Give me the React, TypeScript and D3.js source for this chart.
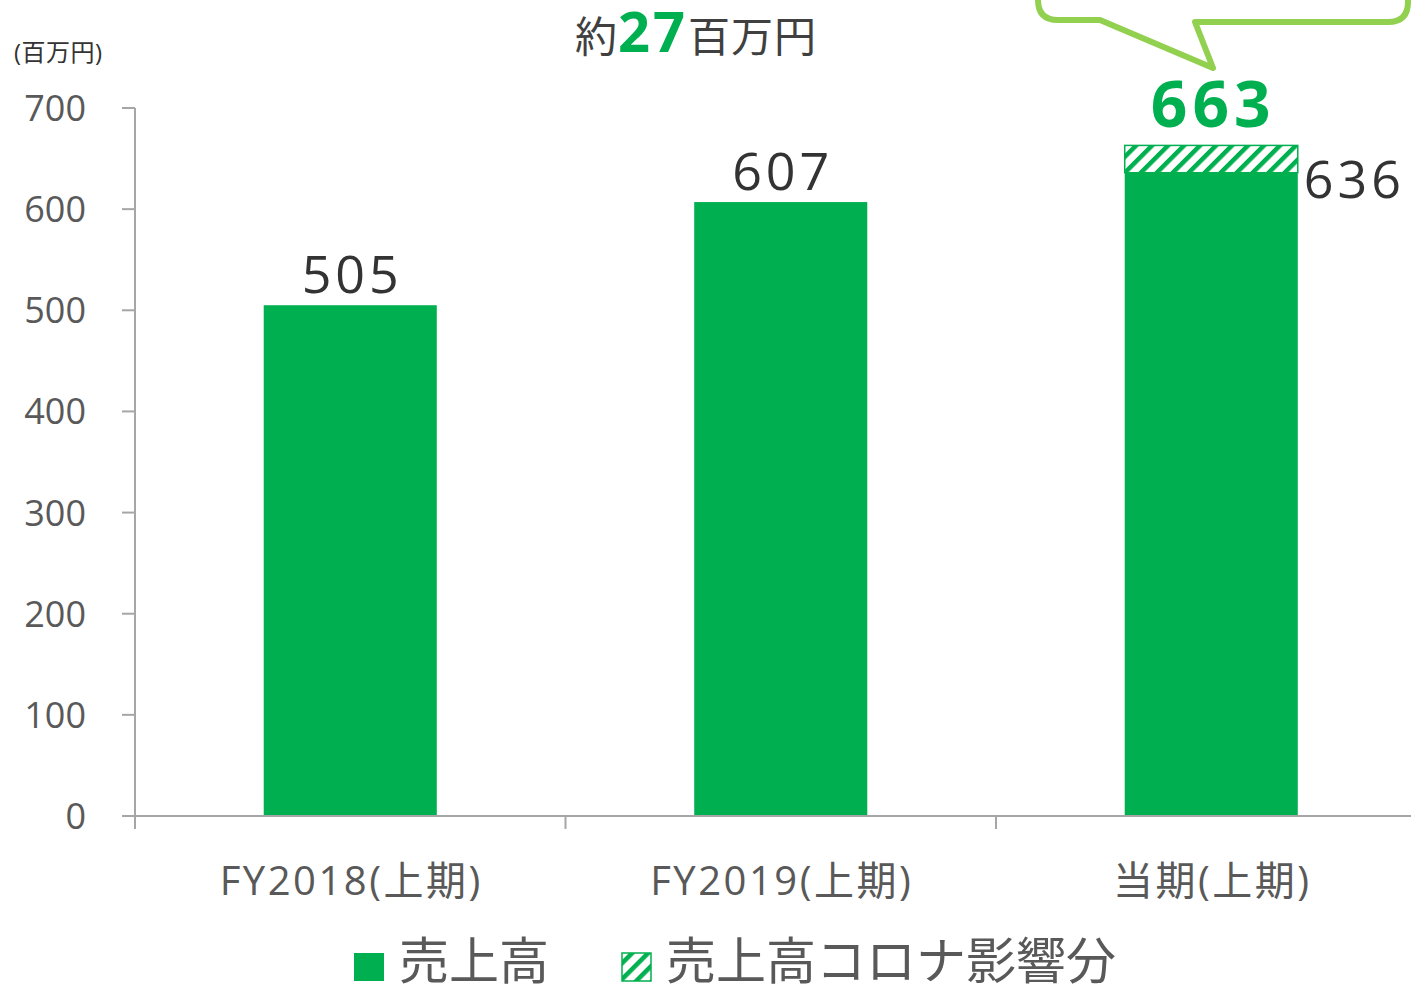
import React from "react";
import * as d3 from "d3";

const categories = ["FY2018(上期)", "FY2019(上期)", "当期(上期)"];
const sales = [505, 607, 636];
const coronaImpact = [0, 0, 27];
const totals = [505, 607, 663];
const yTicks = [0, 100, 200, 300, 400, 500, 600, 700];
const legendLabels = ["売上高", "売上高コロナ影響分"];

const W = 1411;
const H = 987;
const FONT = "'Open Sans', 'Noto Sans CJK JP', sans-serif";
const GREEN = "#00B050";
const LIGHT = "#92D050";
const AXIS = "#A6A6A6";
const TEXT = "#595959";
const DARK = "#333333";

export default function App() {
  const x = d3.scaleBand<string>().domain(categories).range([135, 1426.5]).padding(0);
  const y = d3.scaleLinear().domain([0, 700]).range([816, 108]);
  const bw = x.bandwidth() * 0.402;

  return (
    <svg width={W} height={H} style={{ position: "absolute", left: 0, top: 0, fontFamily: FONT }}>
      <defs>
        <pattern id="hatch" patternUnits="userSpaceOnUse" width={11.3} height={11.3} patternTransform="rotate(45)">
          <rect width={11.3} height={11.3} fill="#fff" />
          <rect x={0} y={0} width={4.5} height={11.3} fill={GREEN} />
        </pattern>
      </defs>
      <rect width={W} height={H} fill="#fff" />

      {/* unit label */}
      <text x={14} y={61} fontSize={24} fill={DARK} letterSpacing={0.5}>(百万円)</text>

      {/* y axis */}
      <line x1={135} x2={135} y1={y(700)} y2={y(0)} stroke={AXIS} strokeWidth={2} />
      {yTicks.map((t) => (
        <g key={t}>
          <line x1={122} x2={135} y1={y(t)} y2={y(t)} stroke={AXIS} strokeWidth={2} />
          <text x={86} y={y(t)} dy="0.36em" textAnchor="end" fontSize={36} fill={TEXT}>{t}</text>
        </g>
      ))}

      {/* bars */}
      {categories.map((c, i) => {
        const cx = (x(c) as number) + x.bandwidth() / 2;
        return (
          <g key={c}>
            <rect x={cx - bw / 2} y={y(sales[i])} width={bw} height={y(0) - y(sales[i])} fill={GREEN} />
            {coronaImpact[i] > 0 && (
              <rect
                x={cx - bw / 2}
                y={y(sales[i] + coronaImpact[i])}
                width={bw}
                height={y(sales[i]) - y(sales[i] + coronaImpact[i])}
                fill="url(#hatch)"
                stroke={GREEN}
                strokeWidth={1.5}
              />
            )}
          </g>
        );
      })}

      {/* x axis */}
      <line x1={122} x2={W} y1={y(0)} y2={y(0)} stroke={AXIS} strokeWidth={2} />
      {categories.map((c) => (
        <line key={c} x1={x(c) as number} x2={x(c) as number} y1={y(0)} y2={y(0) + 13} stroke={AXIS} strokeWidth={2} />
      ))}
      {categories.map((c) => (
        <text key={c} x={(x(c) as number) + x.bandwidth() / 2 + 1} y={895} textAnchor="middle" fontSize={40} letterSpacing={2.5} fill={TEXT}>{c}</text>
      ))}

      {/* value labels */}
      {categories.map((c, i) => {
        const cx = (x(c) as number) + x.bandwidth() / 2;
        if (coronaImpact[i] > 0) {
          return (
            <g key={c}>
              <text x={cx + 2} y={y(totals[i]) - 18} textAnchor="middle" fontSize={64} fontWeight="bold" letterSpacing={5} fill={GREEN}>{totals[i]}</text>
              <text x={cx + bw / 2 + 6} y={198} fontSize={52} letterSpacing={4} fill={DARK}>{sales[i]}</text>
            </g>
          );
        }
        return (
          <text key={c} x={cx + 2} y={y(sales[i]) - 12} textAnchor="middle" fontSize={52} letterSpacing={4} fill={DARK}>{sales[i]}</text>
        );
      })}

      {/* callout */}
      <path
        d="M 1058 -60 L 1388 -60 Q 1408 -60 1408 -40 L 1408 2 Q 1408 22 1388 22 L 1195 22 L 1213 68 L 1100 20 L 1058 20 Q 1038 20 1038 0 L 1038 -40 Q 1038 -60 1058 -60 Z"
        fill="#fff"
        stroke={LIGHT}
        strokeWidth={6}
        strokeLinejoin="round"
      />
      <text x={575} y={52} fontSize={42} fill="#404040" letterSpacing={1}>
        約<tspan fontSize={56} fontWeight="bold" fill={GREEN} letterSpacing={3}>27</tspan>百万円
      </text>

      {/* legend */}
      <rect x={354} y={953} width={30} height={28} fill={GREEN} />
      <text x={399} y={979} fontSize={50} fill={TEXT}>{legendLabels[0]}</text>
      <rect x={622} y={953} width={29} height={28} fill="url(#hatch)" stroke={GREEN} strokeWidth={1.5} />
      <text x={666} y={979} fontSize={50} fill={TEXT}>{legendLabels[1]}</text>
    </svg>
  );
}
